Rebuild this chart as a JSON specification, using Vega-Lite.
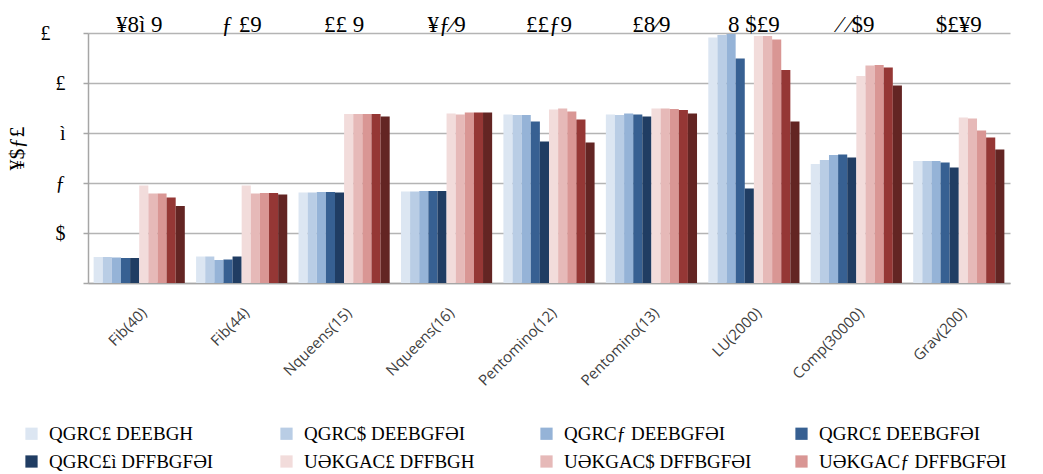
{
  "$schema": "https://vega.github.io/schema/vega-lite/v6.json",
  "autosize": "none",
  "width": 922,
  "height": 250,
  "padding": {"left": 88, "top": 33, "right": 33, "bottom": 191},
  "background": "white",
  "datasets": {
    "bars": [
      {"b": "Fib(40)", "s": "QGRC£ DEEBGH", "v": 0.52},
      {"b": "Fib(40)", "s": "QGRC$ DEEBGFƏI", "v": 0.52},
      {"b": "Fib(40)", "s": "QGRCƒ DEEBGFƏI", "v": 0.51},
      {"b": "Fib(40)", "s": "QGRC£ DEEBGFƏI", "v": 0.5},
      {"b": "Fib(40)", "s": "QGRC£ì DFFBGFƏI", "v": 0.5},
      {"b": "Fib(40)", "s": "UƏKGAC£ DFFBGH", "v": 1.95},
      {"b": "Fib(40)", "s": "UƏKGAC$ DFFBGFƏI", "v": 1.79},
      {"b": "Fib(40)", "s": "UƏKGACƒ DFFBGFƏI", "v": 1.79},
      {"b": "Fib(40)", "s": "UƏKGAC£ DFFBGFƏI", "v": 1.71},
      {"b": "Fib(40)", "s": "UƏKGAC£ì DFFBGFƏI", "v": 1.54},
      {"b": "Fib(44)", "s": "QGRC£ DEEBGH", "v": 0.53},
      {"b": "Fib(44)", "s": "QGRC$ DEEBGFƏI", "v": 0.53},
      {"b": "Fib(44)", "s": "QGRCƒ DEEBGFƏI", "v": 0.46},
      {"b": "Fib(44)", "s": "QGRC£ DEEBGFƏI", "v": 0.47},
      {"b": "Fib(44)", "s": "QGRC£ì DFFBGFƏI", "v": 0.53},
      {"b": "Fib(44)", "s": "UƏKGAC£ DFFBGH", "v": 1.95},
      {"b": "Fib(44)", "s": "UƏKGAC$ DFFBGFƏI", "v": 1.79},
      {"b": "Fib(44)", "s": "UƏKGACƒ DFFBGFƏI", "v": 1.8},
      {"b": "Fib(44)", "s": "UƏKGAC£ DFFBGFƏI", "v": 1.8},
      {"b": "Fib(44)", "s": "UƏKGAC£ì DFFBGFƏI", "v": 1.77},
      {"b": "Nqueens(15)", "s": "QGRC£ DEEBGH", "v": 1.81},
      {"b": "Nqueens(15)", "s": "QGRC$ DEEBGFƏI", "v": 1.81},
      {"b": "Nqueens(15)", "s": "QGRCƒ DEEBGFƏI", "v": 1.82},
      {"b": "Nqueens(15)", "s": "QGRC£ DEEBGFƏI", "v": 1.82},
      {"b": "Nqueens(15)", "s": "QGRC£ì DFFBGFƏI", "v": 1.81},
      {"b": "Nqueens(15)", "s": "UƏKGAC£ DFFBGH", "v": 3.38},
      {"b": "Nqueens(15)", "s": "UƏKGAC$ DFFBGFƏI", "v": 3.38},
      {"b": "Nqueens(15)", "s": "UƏKGACƒ DFFBGFƏI", "v": 3.38},
      {"b": "Nqueens(15)", "s": "UƏKGAC£ DFFBGFƏI", "v": 3.38},
      {"b": "Nqueens(15)", "s": "UƏKGAC£ì DFFBGFƏI", "v": 3.33},
      {"b": "Nqueens(16)", "s": "QGRC£ DEEBGH", "v": 1.83},
      {"b": "Nqueens(16)", "s": "QGRC$ DEEBGFƏI", "v": 1.83},
      {"b": "Nqueens(16)", "s": "QGRCƒ DEEBGFƏI", "v": 1.84},
      {"b": "Nqueens(16)", "s": "QGRC£ DEEBGFƏI", "v": 1.84},
      {"b": "Nqueens(16)", "s": "QGRC£ì DFFBGFƏI", "v": 1.84},
      {"b": "Nqueens(16)", "s": "UƏKGAC£ DFFBGH", "v": 3.39},
      {"b": "Nqueens(16)", "s": "UƏKGAC$ DFFBGFƏI", "v": 3.37},
      {"b": "Nqueens(16)", "s": "UƏKGACƒ DFFBGFƏI", "v": 3.41},
      {"b": "Nqueens(16)", "s": "UƏKGAC£ DFFBGFƏI", "v": 3.41},
      {"b": "Nqueens(16)", "s": "UƏKGAC£ì DFFBGFƏI", "v": 3.41},
      {"b": "Pentomino(12)", "s": "QGRC£ DEEBGH", "v": 3.37},
      {"b": "Pentomino(12)", "s": "QGRC$ DEEBGFƏI", "v": 3.36},
      {"b": "Pentomino(12)", "s": "QGRCƒ DEEBGFƏI", "v": 3.36},
      {"b": "Pentomino(12)", "s": "QGRC£ DEEBGFƏI", "v": 3.23},
      {"b": "Pentomino(12)", "s": "QGRC£ì DFFBGFƏI", "v": 2.83},
      {"b": "Pentomino(12)", "s": "UƏKGAC£ DFFBGH", "v": 3.47},
      {"b": "Pentomino(12)", "s": "UƏKGAC$ DFFBGFƏI", "v": 3.49},
      {"b": "Pentomino(12)", "s": "UƏKGACƒ DFFBGFƏI", "v": 3.43},
      {"b": "Pentomino(12)", "s": "UƏKGAC£ DFFBGFƏI", "v": 3.27},
      {"b": "Pentomino(12)", "s": "UƏKGAC£ì DFFBGFƏI", "v": 2.81},
      {"b": "Pentomino(13)", "s": "QGRC£ DEEBGH", "v": 3.37},
      {"b": "Pentomino(13)", "s": "QGRC$ DEEBGFƏI", "v": 3.36},
      {"b": "Pentomino(13)", "s": "QGRCƒ DEEBGFƏI", "v": 3.39},
      {"b": "Pentomino(13)", "s": "QGRC£ DEEBGFƏI", "v": 3.37},
      {"b": "Pentomino(13)", "s": "QGRC£ì DFFBGFƏI", "v": 3.33},
      {"b": "Pentomino(13)", "s": "UƏKGAC£ DFFBGH", "v": 3.49},
      {"b": "Pentomino(13)", "s": "UƏKGAC$ DFFBGFƏI", "v": 3.49},
      {"b": "Pentomino(13)", "s": "UƏKGACƒ DFFBGFƏI", "v": 3.48},
      {"b": "Pentomino(13)", "s": "UƏKGAC£ DFFBGFƏI", "v": 3.46},
      {"b": "Pentomino(13)", "s": "UƏKGAC£ì DFFBGFƏI", "v": 3.39},
      {"b": "LU(2000)", "s": "QGRC£ DEEBGH", "v": 4.91},
      {"b": "LU(2000)", "s": "QGRC$ DEEBGFƏI", "v": 4.96},
      {"b": "LU(2000)", "s": "QGRCƒ DEEBGFƏI", "v": 4.98},
      {"b": "LU(2000)", "s": "QGRC£ DEEBGFƏI", "v": 4.49},
      {"b": "LU(2000)", "s": "QGRC£ì DFFBGFƏI", "v": 1.89},
      {"b": "LU(2000)", "s": "UƏKGAC£ DFFBGH", "v": 4.94},
      {"b": "LU(2000)", "s": "UƏKGAC$ DFFBGFƏI", "v": 4.94},
      {"b": "LU(2000)", "s": "UƏKGACƒ DFFBGFƏI", "v": 4.87},
      {"b": "LU(2000)", "s": "UƏKGAC£ DFFBGFƏI", "v": 4.26},
      {"b": "LU(2000)", "s": "UƏKGAC£ì DFFBGFƏI", "v": 3.23},
      {"b": "Comp(30000)", "s": "QGRC£ DEEBGH", "v": 2.38},
      {"b": "Comp(30000)", "s": "QGRC$ DEEBGFƏI", "v": 2.46},
      {"b": "Comp(30000)", "s": "QGRCƒ DEEBGFƏI", "v": 2.56},
      {"b": "Comp(30000)", "s": "QGRC£ DEEBGFƏI", "v": 2.57},
      {"b": "Comp(30000)", "s": "QGRC£ì DFFBGFƏI", "v": 2.51},
      {"b": "Comp(30000)", "s": "UƏKGAC£ DFFBGH", "v": 4.14},
      {"b": "Comp(30000)", "s": "UƏKGAC$ DFFBGFƏI", "v": 4.35},
      {"b": "Comp(30000)", "s": "UƏKGACƒ DFFBGFƏI", "v": 4.36},
      {"b": "Comp(30000)", "s": "UƏKGAC£ DFFBGFƏI", "v": 4.31},
      {"b": "Comp(30000)", "s": "UƏKGAC£ì DFFBGFƏI", "v": 3.95},
      {"b": "Grav(200)", "s": "QGRC£ DEEBGH", "v": 2.44},
      {"b": "Grav(200)", "s": "QGRC$ DEEBGFƏI", "v": 2.44},
      {"b": "Grav(200)", "s": "QGRCƒ DEEBGFƏI", "v": 2.44},
      {"b": "Grav(200)", "s": "QGRC£ DEEBGFƏI", "v": 2.41},
      {"b": "Grav(200)", "s": "QGRC£ì DFFBGFƏI", "v": 2.31},
      {"b": "Grav(200)", "s": "UƏKGAC£ DFFBGH", "v": 3.31},
      {"b": "Grav(200)", "s": "UƏKGAC$ DFFBGFƏI", "v": 3.29},
      {"b": "Grav(200)", "s": "UƏKGACƒ DFFBGFƏI", "v": 3.05},
      {"b": "Grav(200)", "s": "UƏKGAC£ DFFBGFƏI", "v": 2.91},
      {"b": "Grav(200)", "s": "UƏKGAC£ì DFFBGFƏI", "v": 2.67}
    ],
    "tops": [
      {"b": "Fib(40)", "t": "¥8ì 9"},
      {"b": "Fib(44)", "t": "ƒ  £9"},
      {"b": "Nqueens(15)", "t": "££  9"},
      {"b": "Nqueens(16)", "t": "¥ƒ⁄9"},
      {"b": "Pentomino(12)", "t": "££ƒ9"},
      {"b": "Pentomino(13)", "t": "£8⁄9"},
      {"b": "LU(2000)", "t": "8 $£9"},
      {"b": "Comp(30000)", "t": "⁄ ⁄$9"},
      {"b": "Grav(200)", "t": "$£¥9"}
    ]
  },
  "layer": [
    {
      "data": {"name": "bars"},
      "mark": {"type": "bar", "clip": true},
      "encoding": {
        "x": {
          "field": "b", "type": "nominal", "sort": null,
          "scale": {"paddingInner": 0.11, "paddingOuter": 0.055},
          "axis": {
            "title": null, "labelAngle": -45, "labelFont": "Open Sans", "labelFontSize": 15,
            "labelColor": "#404040", "ticks": false, "labelPadding": 22,
            "domainColor": "#a6a6a6", "domainWidth": 1.5, "grid": false
          }
        },
        "xOffset": {"field": "s", "type": "nominal", "sort": null, "scale": {"paddingInner": 0}},
        "y": {
          "field": "v", "type": "quantitative",
          "scale": {"domain": [0, 5], "nice": false},
          "axis": {
            "title": "¥$ƒ£", "titleFont": "Liberation Serif", "titleFontSize": 22, "titleFontWeight": "normal",
            "titleColor": "#000000", "titleX": -60, "titleY": 115,
            "values": [0, 1, 2, 3, 4, 5],
            "labelExpr": "datum.value == 0 ? '' : datum.value == 1 ? '$' : datum.value == 2 ? 'ƒ' : datum.value == 3 ? 'ì' : datum.value == 4 ? '£' : '£\u2800'",
            "labelFont": "Liberation Serif", "labelFontSize": 20, "labelColor": "#000000", "labelPadding": 18,
            "tickSize": 5, "tickColor": "#a6a6a6", "tickWidth": 1.5,
            "gridColor": "#b4b4b4", "gridWidth": 1.5,
            "domainColor": "#a6a6a6", "domainWidth": 1.5
          }
        },
        "color": {
          "field": "s", "type": "nominal", "sort": null,
          "scale": {
            "range": ["#dce6f2", "#b9cde5", "#95b3d7", "#376092", "#203d63", "#f2dcdb", "#e6b9b8", "#d99694", "#953735", "#632523"]
          },
          "legend": {
            "title": null, "orient": "none", "legendX": -66, "legendY": 391,
            "direction": "horizontal", "columns": 4, "symbolType": "square", "symbolSize": 150,
            "symbolStrokeWidth": 0, "labelFont": "Liberation Serif", "labelFontSize": 19, "labelColor": "#000000",
            "labelLimit": 300, "columnPadding": 40, "rowPadding": 8, "labelOffset": 8
          }
        }
      }
    },
    {
      "data": {"name": "tops"},
      "mark": {"type": "text", "font": "Liberation Serif", "fontSize": 23, "color": "#000000", "baseline": "alphabetic", "dy": -1},
      "encoding": {
        "x": {"field": "b", "type": "nominal", "sort": null},
        "y": {"datum": 5},
        "text": {"field": "t"}
      }
    }
  ],
  "config": {"view": {"stroke": null}}
}
